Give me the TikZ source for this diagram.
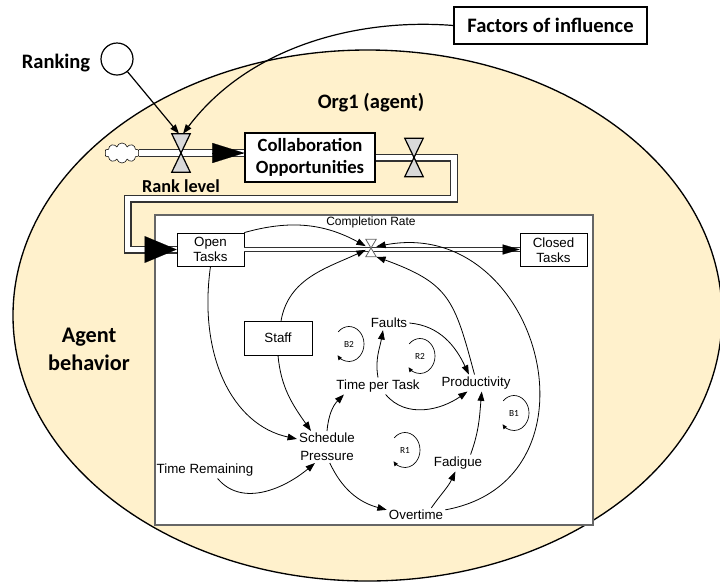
\documentclass[tikz,border=0pt]{standalone}
\usepackage{fontspec}
\setmainfont{Carlito}
\newfontfamily\arialfont{Liberation Sans}
\usetikzlibrary{arrows.meta, shapes, positioning}
\definecolor{agentfill}{RGB}{255,241,204}
\definecolor{pipegray}{RGB}{50,50,50}
\tikzset{
	bigtext/.style   = {font=\bfseries\fontsize{15.4}{18}\selectfont},
	stockbox/.style  = {draw, fill=white, align=center, inner sep=0pt},
	taskbox/.style   = {stockbox, font=\arialfont\fontsize{10}{11.5}\selectfont, minimum width=50.25pt, minimum height=25pt},
	var/.style       = {font=\arialfont\fontsize{10}{13.3}\selectfont, align=center, inner sep=1.5pt},
	valve/.style     = {inner sep=0pt, minimum width=13.5pt, minimum height=28.5pt},
	valvefill/.style = {draw, line width=0.9pt, fill=black!15},
	pipe/.style      = {draw=pipegray, line width=1pt, double=white, double distance=4pt},
	pipehead/.style  = {-{Triangle[length=24pt,width=15pt]}, line width=0.1pt},
	infl/.style      = {->, line width=0.6pt},
	loopline/.style  = {-{Triangle[length=3.5pt,width=3pt]}, line width=0.5pt},
	looplabel/.style = {font=\fontsize{7}{8}\selectfont, inner sep=0pt}
}

\begin{document}
\begin{tikzpicture}[x=0.75pt, y=0.75pt, >={Triangle[length=7pt,width=5pt]}]
	\useasboundingbox (0,0) rectangle (720,-583);

	% the agent
	\draw[line width=1pt, fill=agentfill] (367.5,-315.5) ellipse [x radius=354.5, y radius=265.5];
	\node[bigtext]                                      (org)   at (371,-103) {Org1 (agent)};
	\node[font=\bfseries\fontsize{16.7}{21}\selectfont, align=center] (agent) at (89,-349) {Agent\\behavior};

	% outside influences
	\node[bigtext, draw, fill=white, line width=0.9pt, minimum width=144.75pt, minimum height=27.75pt] (factors) at (550.5,-25.5) {Factors of influence};
	\node[bigtext]                                                (ranking)  at (56,-63)  {Ranking};
	\node[circle, draw, line width=0.9pt, minimum size=24pt, inner sep=0pt] (rankcirc) at (117,-59) {};

	% collaboration stock
	\node[cloud, cloud puffs=10, cloud ignores aspect, draw, fill=white, minimum width=26pt, minimum height=15pt, inner sep=0pt] (cloud) at (122,-153) {};
	\node[stockbox, font=\bfseries\fontsize{14}{16}\selectfont, line width=0.9pt, minimum width=97.5pt, minimum height=36.75pt] (collab) at (310,-157.5) {Collaboration\\Opportunities};
	\node[valve]                                          (rankvalve) at (181,-153)   {};
	\node[valve]                                          (outvalve)  at (414,-157.5) {};
	\node[font=\bfseries\fontsize{13.7}{16}\selectfont, inner sep=0pt] (ranklvl) [below=5.5pt of rankvalve] {Rank level};

	% task model
	\draw[draw=black!60, line width=1.3pt, fill=white] (155,-215) rectangle (593,-525);
	\node[var, font=\arialfont\fontsize{9}{10}\selectfont] (crate)   at (371,-222)   {Completion Rate};
	\node[taskbox]                                        (open)    at (210.5,-249.5) {Open\\Tasks};
	\node[taskbox]                                        (closed)  at (553.5,-250) {Closed\\Tasks};
	\node[taskbox, minimum width=51pt, minimum height=25.5pt] (staff) at (278,-338) {Staff};
	\node[inner sep=0pt, minimum width=7.5pt, minimum height=12.75pt] (valveC) at (371,-248) {};
	\node[var] (faults)   at (389,-323) {Faults};
	\node[var] (tpt)      at (378,-386) {Time per Task};
	\node[var] (prod)     at (476,-383) {Productivity};
	\node[var] (sched)    at (327,-447) {Schedule\\Pressure};
	\node[var] (tremain)  at (205,-470) {Time Remaining};
	\node[var] (fad)      at (458,-463) {Fadigue};
	\node[var] (over)     at (416,-515) {Overtime};

	% pipes and valves
	\coordinate (collabin) at (cloud.east -| collab.west);
	\draw[pipe, double distance=4.5pt] (cloud.east) -- (collabin);
	\draw[pipehead] ([xshift=-1pt]collabin) -- (collabin);
	\filldraw[valvefill] (rankvalve.north west) -- (rankvalve.north east) -- (rankvalve.south west) -- (rankvalve.south east) -- cycle;

	\coordinate (turn1) at (454,-157.5);
	\coordinate (turn2) at (127.5,-198.5);
	\draw[pipe] (collab.east) -- (turn1) -- (turn1 |- turn2) -- (turn2) -- (turn2 |- open.west) -- (open.west);
	\draw[pipehead, -{Triangle[length=24pt,width=20pt]}] ([xshift=-1pt]open.west) -- (open.west);
	\filldraw[valvefill] (outvalve.north west) -- (outvalve.north east) -- (outvalve.south west) -- (outvalve.south east) -- cycle;

	\coordinate (closedin) at (open.east -| closed.west);
	\draw[pipe, line width=0.7pt, double distance=1.8pt] (open.east) -- (closedin);
	\draw[-{Triangle[length=12.75pt,width=7.5pt]}, line width=0.1pt] ([xshift=-1pt]closedin) -- (closedin);
	\filldraw[draw=black!60, fill=white, line width=0.6pt] (valveC.north west) -- (valveC.north east) -- (valveC.south west) -- (valveC.south east) -- cycle;

	% influences on the rank level
	\draw[infl, line width=0.9pt] (rankcirc) -- ([xshift=-1.5pt]rankvalve.north);
	\draw[infl, line width=0.9pt] (factors.west) .. controls (360,-18) and (250,-45) .. ([xshift=1.5pt]rankvalve.north);

	% causal links
	\path[infl] (open.north east) edge [bend left=22]          (valveC.160);
	\path[infl] (staff.80)        edge [out=80,  in=205]       (valveC.200);
	\path[infl] (prod.100)        edge [out=105, in=-20, looseness=1.3] (valveC.south east);
	\draw[infl] (over.10) .. controls (610,-480) and (540,-215) .. (valveC.15);
	\draw[infl] (open.south) .. controls (198,-355) and (232,-425) .. (sched.165);
	\path[infl] (staff.south)     edge [out=-85, in=125]       (sched.135);
	\path[infl] (tremain.-34)     edge [out=-50, in=-140]      (sched.-127);
	\path[infl] (sched.north)     edge [out=85,  in=-135]      (tpt.-166);
	\path[infl] (sched.-80)       edge [out=-65, in=165]       (over.170);
	\path[infl] (tpt.north)       edge [out=100, in=-100]      (faults.-130);
	\path[infl] (faults.east)     edge [out=-5,  in=115]       (prod.130);
	\path[infl] (tpt.-48)         edge [out=-50, in=-145]      (prod.-135);
	\path[infl] (fad.34)          edge [out=70,  in=-95]       (prod.-56);
	\path[infl] (over.25)         edge [out=55,  in=-115]      (fad.-107);

	% loops
	\node[looplabel] (b2) at (349,-344) {B2};
	\draw[loopline] ([shift={(136:15 and 17.5)}]b2.center) arc [start angle=136, end angle=-140, x radius=15, y radius=17.5];
	\node[looplabel] (r2) at (420,-356) {R2};
	\draw[loopline] ([shift={(136:15 and 17.5)}]r2.center) arc [start angle=136, end angle=-140, x radius=15, y radius=17.5];
	\node[looplabel] (r1) at (405,-450) {R1};
	\draw[loopline] ([shift={(136:15 and 17.5)}]r1.center) arc [start angle=136, end angle=-140, x radius=15, y radius=17.5];
	\node[looplabel] (b1) at (514,-413) {B1};
	\draw[loopline] ([shift={(136:15 and 17.5)}]b1.center) arc [start angle=136, end angle=-140, x radius=15, y radius=17.5];
\end{tikzpicture}
\end{document}
